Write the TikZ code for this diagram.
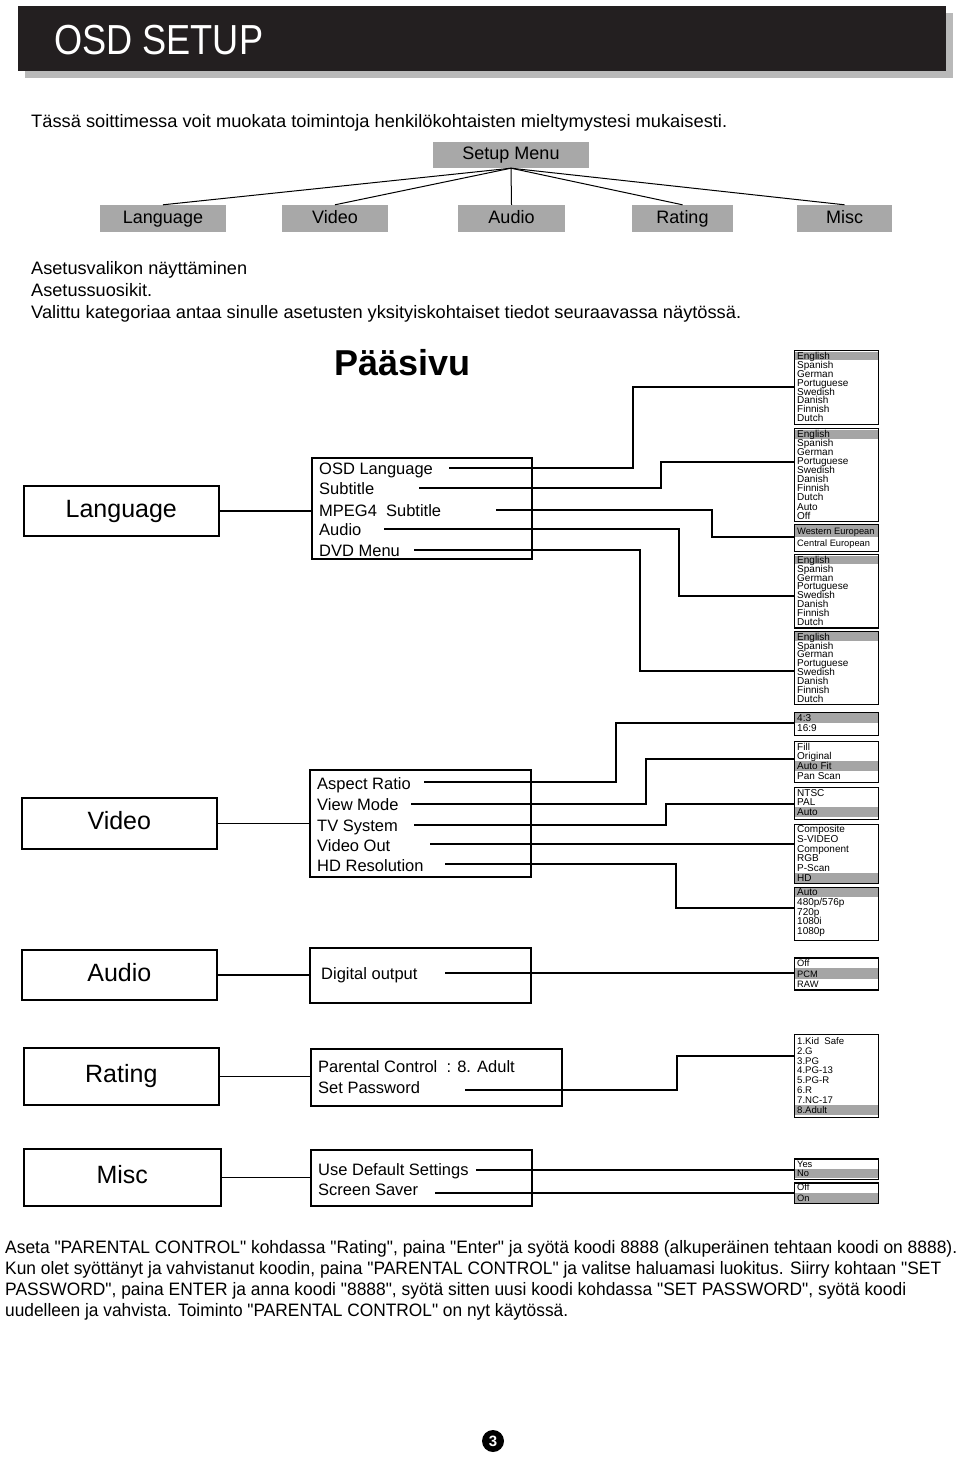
\documentclass[tikz,border=0pt]{standalone}
\usepackage{fontspec}
\setmainfont{Liberation Sans}
\newfontfamily\notefont{Liberation Sans}
\usepackage{graphicx}

\definecolor{menugray}{RGB}{168,168,168}
\definecolor{hlgray}{RGB}{165,165,165}
\definecolor{barblack}{RGB}{35,31,32}
\definecolor{shadowgray}{RGB}{185,185,185}

\tikzset{
  menubox/.style={fill=menugray, inner sep=0pt, text height=13pt, text depth=3.8pt, font=\fontsize{18}{18}\selectfont},
  catbox/.style={draw, line width=1.6pt, inner sep=0pt, anchor=north west, text height=18pt, text depth=5pt, font=\fontsize{25}{25}\selectfont},
  subbox/.style={draw, line width=1.6pt, inner sep=0pt, anchor=north west},
  subitem/.style={anchor=base west, inner sep=0pt, font=\fontsize{16.5}{16.5}\selectfont},
  optbox/.style={draw, line width=1.4pt, inner sep=0pt, minimum width=84pt, anchor=north west},
  optitem/.style={anchor=base west, inner sep=0pt},
  wire/.style={line width=1.4pt},
  para/.style={anchor=base west, inner sep=0pt, font=\notefont\fontsize{18}{18}\selectfont},
}

% option list: [font size] name, top, bottom, first item y, step, highlighted item, items
\newcommand{\optlist}[8][10]{%
  \fill[hlgray] (794,{#5+(#7-0.5)*#6}) rectangle (878,{#5+(#7+0.5)*#6});
  \node[optbox, minimum height={(#4-#3)*1pt}] (#2) at (794,#3) {};
  \foreach \t [count=\i from 0] in {#8}
    \node[optitem, font=\fontsize{#1}{#1}\selectfont] (#2-\i) at (797,{#5+\i*#6+3.4}) {\t};
}

\begin{document}
\begin{tikzpicture}[x=1pt, y=-1pt]
\useasboundingbox (0,0) rectangle (960,1458);

% header bar
\fill[shadowgray] (25,13) rectangle (953,78);
\fill[barblack] (18,6) rectangle (946,71);
\node[anchor=base west, inner sep=0pt, text=white, font=\fontsize{42}{42}\selectfont] (title) at (54,55) {\resizebox{209pt}{\height}{OSD SETUP}};

\node[para] (intro) at (31,128) {\resizebox{696pt}{\height}{Tässä soittimessa voit muokata toimintoja henkilökohtaisten mieltymystesi mukaisesti.}};

% setup menu tree
\node[menubox, minimum width=156pt, minimum height=26pt] (setup) at (511,155) {Setup Menu};
\node[menubox, minimum width=126pt, minimum height=27pt] (tLang) at (163,218.5) {Language};
\node[menubox, minimum width=106pt, minimum height=27pt] (tVideo) at (335,218.5) {Video};
\node[menubox, minimum width=107pt, minimum height=27pt] (tAudio) at (511.5,218.5) {Audio};
\node[menubox, minimum width=101pt, minimum height=27pt] (tRating) at (682.5,218.5) {Rating};
\node[menubox, minimum width=95pt, minimum height=27pt] (tMisc) at (844.5,218.5) {Misc};
\foreach \n in {tLang,tVideo,tAudio,tRating,tMisc}
  \draw[line width=1pt] (setup.south) -- (\n.north);

\node[para] (info1) at (31,274) {\resizebox{216pt}{\height}{Asetusvalikon näyttäminen}};
\node[para] (info2) at (31,296) {\resizebox{121pt}{\height}{Asetussuosikit.}};
\node[para] (info3) at (31,318) {\resizebox{710pt}{\height}{Valittu kategoriaa antaa sinulle asetusten yksityiskohtaiset tiedot seuraavassa näytössä.}};

\node[anchor=base west, inner sep=0pt, font=\bfseries\fontsize{36}{36}\selectfont] (mainpage) at (334,375) {Pääsivu};

% categories
\node[catbox, minimum width=195pt, minimum height=50pt] (cLang) at (23,485) {Language};
\node[catbox, minimum width=195pt, minimum height=51pt] (cVideo) at (21,797) {Video};
\node[catbox, minimum width=195pt, minimum height=50pt] (cAudio) at (21,949) {Audio};
\node[catbox, minimum width=195pt, minimum height=57pt] (cRating) at (23,1047) {Rating};
\node[catbox, minimum width=197pt, minimum height=57pt] (cMisc) at (23,1148) {Misc};

% sub menus
\node[subbox, minimum width=220pt, minimum height=101pt] (sLang) at (311,457) {};
\node[subbox, minimum width=221pt, minimum height=107pt] (sVideo) at (309,769) {};
\node[subbox, minimum width=221pt, minimum height=55pt] (sAudio) at (309,947) {};
\node[subbox, minimum width=251pt, minimum height=57pt] (sRating) at (310,1048) {};
\node[subbox, minimum width=221pt, minimum height=56pt] (sMisc) at (310,1149) {};

\foreach \c/\s in {cLang/sLang,cVideo/sVideo,cAudio/sAudio,cRating/sRating,cMisc/sMisc}
  \draw[wire] (\c.east) -- (\c.east -| \s.west);

\node[subitem] (iOSD) at (319,474) {OSD Language};
\node[subitem] (iSub) at (319,494) {Subtitle};
\node[subitem] (iMpeg) at (319,516) {MPEG4\ \ Subtitle};
\node[subitem] (iAudio) at (319,535) {Audio};
\node[subitem] (iDVD) at (319,556) {DVD Menu};

\node[subitem] (iAR) at (317,789) {Aspect Ratio};
\node[subitem] (iVM) at (317,810) {View Mode};
\node[subitem] (iTV) at (317,831) {TV System};
\node[subitem] (iVO) at (317,851) {Video Out};
\node[subitem] (iHD) at (317,871.5) {HD Resolution};

\node[subitem] (iDig) at (321,979) {Digital output};

\node[subitem] (iPC) at (318,1072) {Parental Control\ \ : 8. Adult};
\node[subitem] (iPW) at (318,1093) {Set Password};

\node[subitem] (iDef) at (318,1175) {Use Default Settings};
\node[subitem] (iSS) at (318,1195) {Screen Saver};

% option lists
\optlist{l1}{350}{424}{356}{8.9}{0}{English,Spanish,German,Portuguese,Swedish,Danish,Finnish,Dutch}
\optlist{l2}{428}{521}{434.3}{9.04}{0}{English,Spanish,German,Portuguese,Swedish,Danish,Finnish,Dutch,Auto,Off}
\optlist[9.3]{l3}{524}{551}{530.7}{12}{0}{Western European,Central European}
\optlist{l4}{554}{627.3}{560}{8.86}{0}{English,Spanish,German,Portuguese,Swedish,Danish,Finnish,Dutch}
\optlist{l5}{631}{704}{636.7}{8.9}{0}{English,Spanish,German,Portuguese,Swedish,Danish,Finnish,Dutch}
\optlist{v1}{712}{735}{718.3}{9.7}{0}{4:3,16:9}
\optlist{v2}{741}{782}{746.7}{9.77}{2}{Fill,Original,Auto Fit,Pan Scan}
\optlist{v3}{787}{819}{792.7}{9.8}{2}{NTSC,PAL,Auto}
\optlist{v4}{823.5}{883}{829}{9.8}{5}{Composite,S-VIDEO,Component,RGB,P-Scan,HD}
\optlist{v5}{887}{939.5}{892.3}{9.75}{0}{Auto,480p/576p,720p,1080i,1080p}
\optlist[9.3]{a1}{957.3}{989.3}{963.3}{10.3}{1}{Off,PCM,RAW}
\optlist[9.6]{r1}{1033.5}{1116.5}{1041}{9.86}{7}{1.Kid\ \ Safe,2.G,3.PG,4.PG-13,5.PG-R,6.R,7.NC-17,8.Adult}
\optlist[9.3]{m1}{1158.3}{1179}{1163.7}{9.6}{1}{Yes,No}
\optlist[9.3]{m2}{1182.3}{1203}{1187.3}{10.7}{1}{Off,On}

% connectors
\coordinate (pOSD) at (449,468);  \coordinate (kOSD) at (633,387);
\coordinate (pSub) at (419,488);  \coordinate (kSub) at (661,462);
\coordinate (pMpeg) at (496,510); \coordinate (kMpeg) at (712,537);
\coordinate (pAudio) at (384,529); \coordinate (kAudio) at (679,596);
\coordinate (pDVD) at (414,550);  \coordinate (kDVD) at (640,671);
\draw[wire] (pOSD) -| (kOSD) -- (kOSD -| l1.west);
\draw[wire] (pSub) -| (kSub) -- (kSub -| l2.west);
\draw[wire] (pMpeg) -| (kMpeg) -- (kMpeg -| l3.west);
\draw[wire] (pAudio) -| (kAudio) -- (kAudio -| l4.west);
\draw[wire] (pDVD) -| (kDVD) -- (kDVD -| l5.west);

\coordinate (pAR) at (424,782); \coordinate (kAR) at (616,723);
\coordinate (pVM) at (411,804); \coordinate (kVM) at (646,759);
\coordinate (pTV) at (414,825); \coordinate (kTV) at (666,804);
\coordinate (pVO) at (430,844);
\coordinate (pHD) at (445,864); \coordinate (kHD) at (676,908);
\draw[wire] (pAR) -| (kAR) -- (kAR -| v1.west);
\draw[wire] (pVM) -| (kVM) -- (kVM -| v2.west);
\draw[wire] (pTV) -| (kTV) -- (kTV -| v3.west);
\draw[wire] (pVO) -- (pVO -| v4.west);
\draw[wire] (pHD) -| (kHD) -- (kHD -| v5.west);

\coordinate (pDig) at (445,973);
\draw[wire] (pDig) -- (pDig -| a1.west);

\coordinate (pPW) at (465,1090); \coordinate (kPW) at (677,1056);
\draw[wire] (pPW) -| (kPW) -- (kPW -| r1.west);

\coordinate (pDef) at (476,1170);
\coordinate (pSS) at (435,1193);
\draw[wire] (pDef) -- (pDef -| m1.west);
\draw[wire] (pSS) -- (pSS -| m2.west);

% notes
\node[para] (note1) at (5,1253) {\resizebox{952pt}{\height}{Aseta "PARENTAL CONTROL" kohdassa "Rating", paina "Enter" ja syötä koodi 8888 (alkuperäinen tehtaan koodi on 8888).}};
\node[para] (note2) at (5,1274) {\resizebox{936pt}{\height}{Kun olet syöttänyt ja vahvistanut koodin, paina "PARENTAL CONTROL" ja valitse haluamasi luokitus. Siirry kohtaan "SET}};
\node[para] (note3) at (5,1295) {\resizebox{901pt}{\height}{PASSWORD", paina ENTER ja anna koodi "8888", syötä sitten uusi koodi kohdassa "SET PASSWORD", syötä koodi}};
\node[para] (note4) at (5,1316) {\resizebox{563pt}{\height}{uudelleen ja vahvista. Toiminto "PARENTAL CONTROL" on nyt käytössä.}};

\node[circle, fill=black, minimum size=22pt, inner sep=0pt, text=white, font=\bfseries\fontsize{15}{15}\selectfont] (pagenum) at (493,1441) {3};
\end{tikzpicture}
\end{document}
